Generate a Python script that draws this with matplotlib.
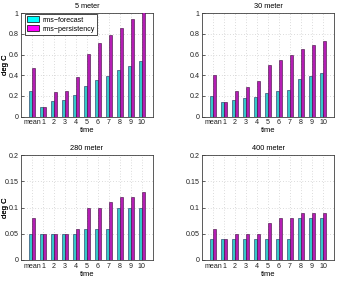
import matplotlib
matplotlib.use("Agg")
import matplotlib.pyplot as plt
from matplotlib.patches import Patch
import numpy as np

plt.rcParams['font.family'] = ['Liberation Sans', 'DejaVu Sans']

categories = ["mean", "1", "2", "3", "4", "5", "6", "7", "8", "9", "10"]

titles = ["5 meter", "30 meter", "280 meter", "400 meter"]

forecast_5 = [0.25, 0.09, 0.15, 0.16, 0.21, 0.30, 0.35, 0.39, 0.45, 0.49, 0.54]
persist_5 = [0.47, 0.09, 0.24, 0.25, 0.38, 0.61, 0.71, 0.79, 0.86, 0.94, 1.02]

forecast_30 = [0.20, 0.14, 0.16, 0.18, 0.19, 0.23, 0.25, 0.26, 0.36, 0.39, 0.42]
persist_30 = [0.40, 0.14, 0.25, 0.29, 0.34, 0.50, 0.55, 0.60, 0.65, 0.69, 0.73]

forecast_280 = [0.05, 0.05, 0.05, 0.05, 0.05, 0.06, 0.06, 0.06, 0.10, 0.10, 0.10]
persist_280 = [0.08, 0.05, 0.05, 0.05, 0.06, 0.10, 0.10, 0.11, 0.12, 0.12, 0.13]

forecast_400 = [0.04, 0.04, 0.04, 0.04, 0.04, 0.04, 0.04, 0.04, 0.08, 0.08, 0.08]
persist_400 = [0.06, 0.04, 0.05, 0.05, 0.05, 0.07, 0.08, 0.08, 0.09, 0.09, 0.09]

ylims = [1.0, 1.0, 0.2, 0.2]
yticks = [[0, 0.2, 0.4, 0.6, 0.8, 1], [0, 0.2, 0.4, 0.6, 0.8, 1],
          [0, 0.05, 0.1, 0.15, 0.2], [0, 0.05, 0.1, 0.15, 0.2]]
ytlabels = [["0", "0.2", "0.4", "0.6", "0.8", "1"], ["0", "0.2", "0.4", "0.6", "0.8", "1"],
            ["0", "0.05", "0.1", "0.15", "0.2"], ["0", "0.05", "0.1", "0.15", "0.2"]]

forecasts = [forecast_5, forecast_30, forecast_280, forecast_400]
persists = [persist_5, persist_30, persist_280, persist_400]

W, H = 337, 281
fig = plt.figure(figsize=(W / 100, H / 100), dpi=100)
boxes = [  # left, top, right, bottom in pixels
    (21, 13.3, 153, 116.5),
    (202, 13.3, 334, 116.5),
    (21, 155, 153, 260),
    (202, 155, 334, 260),
]

c_fore = "#36c8c8"
c_pers = "#b41eb4"
fs = 5.1
x = np.arange(len(categories))
w = 0.3

for i in range(4):
    l, t, r, b = boxes[i]
    ax = fig.add_axes([l / W, 1 - b / H, (r - l) / W, (b - t) / H])
    ax.bar(x - w / 2, forecasts[i], width=w, color=c_fore, edgecolor="#1a2a5a",
           linewidth=0.4, zorder=3)
    ax.bar(x + w / 2, persists[i], width=w, color=c_pers, edgecolor="#3a0a3a",
           linewidth=0.4, zorder=3)
    ax.set_xlim(-1, 11)
    ax.set_ylim(0, ylims[i])
    ax.set_xticks(x)
    ax.set_xticklabels(categories, fontsize=fs)
    ax.set_yticks(yticks[i])
    ax.set_yticklabels(ytlabels[i], fontsize=fs)
    ax.tick_params(length=2, width=0.5, pad=1.8, direction="in", colors="#202020")
    ax.grid(True, linestyle=(0, (1, 3)), color="#bbbbbb", linewidth=0.5, zorder=0)
    ax.set_axisbelow(True)
    for s in ax.spines.values():
        s.set_linewidth(0.6)
        s.set_color("#404040")
    ax.set_title(titles[i], fontsize=fs + 0.2, pad=3.5)
    ax.set_xlabel("time", fontsize=fs + 0.4, labelpad=1)
    ax.set_ylabel("deg C", fontsize=fs + 0.4)
    ax.yaxis.set_label_coords((9 - l) / (r - l), 0.5)
    if i == 0:
        handles = [Patch(facecolor="#00ffff", edgecolor="black", linewidth=0.5),
                   Patch(facecolor="#ff00ff", edgecolor="black", linewidth=0.5)]
        leg = ax.legend(handles, ["rms\u2212forecast", "rms\u2212persistency"],
                        loc="upper left", bbox_to_anchor=(4 / 132, 1 - 0.7 / 103),
                        fontsize=fs, frameon=True, fancybox=False,
                        edgecolor="black", borderpad=0.35, handlelength=1.6,
                        handleheight=0.8, labelspacing=0.25, handletextpad=0.5,
                        borderaxespad=0)
        leg.get_frame().set_linewidth(0.5)
        leg.get_frame().set_alpha(1)

fig.savefig("out.png", dpi=100)
